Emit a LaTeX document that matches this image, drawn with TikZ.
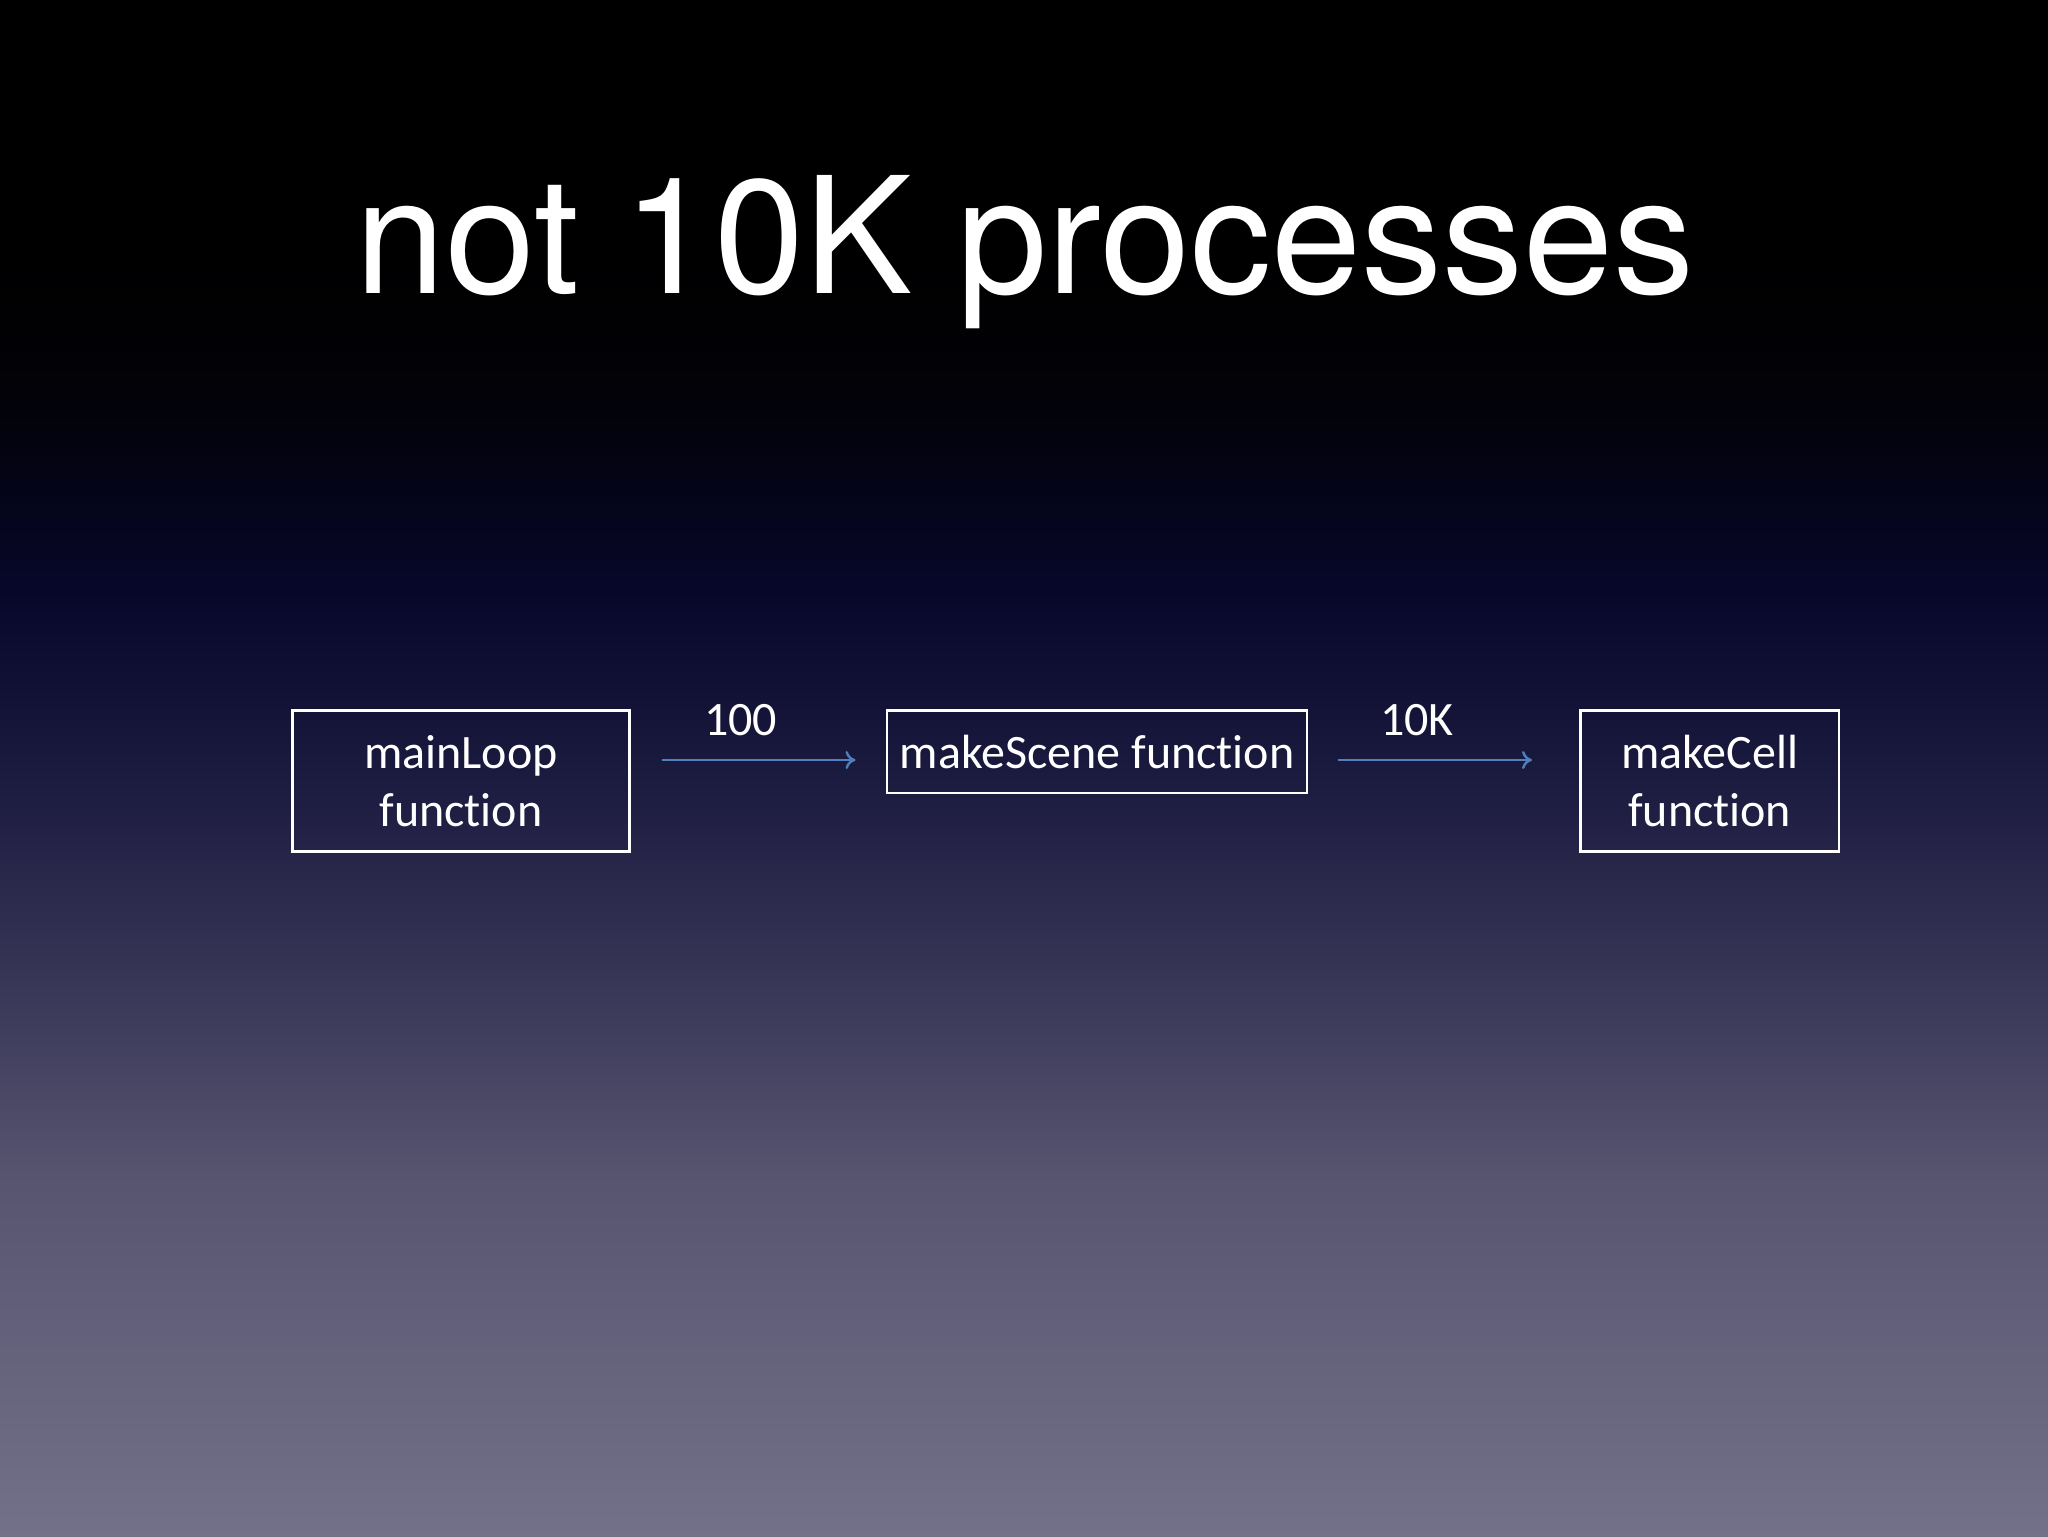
\documentclass[tikz,border=0pt]{standalone}
\usepackage{fontspec}
\setmainfont{Carlito}[Ligatures=NoCommon]
\newfontfamily\titlefont{TeX Gyre Heros}
\usetikzlibrary{arrows.meta}
\definecolor{bgA}{HTML}{000000}
\definecolor{bgB}{HTML}{020208}
\definecolor{bgC}{HTML}{07072A}
\definecolor{bgD}{HTML}{1C1B40}
\definecolor{bgE}{HTML}{383656}
\definecolor{bgF}{HTML}{56546F}
\definecolor{bgG}{HTML}{737189}
\definecolor{arrowblue}{HTML}{4F7FBD}
\tikzset{
  fbox/.style={draw=white, line width=1.1pt, text=white, align=center,
    inner sep=0pt, font=\fontsize{24pt}{28.75pt}\selectfont},
  lbl/.style={text=white, anchor=base, inner sep=0pt, font=\fontsize{24pt}{28.75pt}\selectfont},
  arr/.style={draw=arrowblue, line width=1.2pt, -{To[length=5pt,width=9pt]}},
  ttl/.style={text=white, anchor=base, inner sep=0pt, font=\titlefont\fontsize{81pt}{88pt}\selectfont}
}
\begin{document}
\begin{tikzpicture}[x=0.5pt,y=-0.5pt]
\useasboundingbox (0,0) rectangle (2048,1536);
\shade[top color=bgA, bottom color=bgA] (0,0) rectangle (2048,250);
\shade[top color=bgA, bottom color=bgB] (0,249) rectangle (2048,400);
\shade[top color=bgB, bottom color=bgC] (0,399) rectangle (2048,590);
\shade[top color=bgC, bottom color=bgD] (0,589) rectangle (2048,785);
\shade[top color=bgD, bottom color=bgE] (0,784) rectangle (2048,980);
\shade[top color=bgE, bottom color=bgF] (0,979) rectangle (2048,1175);
\shade[top color=bgF, bottom color=bgG] (0,1174) rectangle (2048,1536);

\node[ttl] (title) at (1025,293) {not 10K processes};

\node[fbox, minimum width=168.5pt, minimum height=70.5pt] (ml) at (461,781) {mainLoop\\function};
\node[fbox, minimum width=210.25pt, minimum height=41.15pt] (ms) at (1097,751.6) {makeScene function};
\node[fbox, minimum width=129.3pt, minimum height=70.5pt] (mc) at (1709.7,781) {makeCell\\function};

\coordinate (a1s) at (662,760);
\coordinate (a1e) at (855.5,760);
\coordinate (a2s) at (1337.5,760);
\coordinate (a2e) at (1532,760);
\draw[arr] (a1s) -- (a1e);
\draw[arr] (a2s) -- (a2e);

\node[lbl] (l1) at (740.6,735) {100};
\node[lbl] (l2) at (1417,735) {10K};
\end{tikzpicture}
\end{document}
